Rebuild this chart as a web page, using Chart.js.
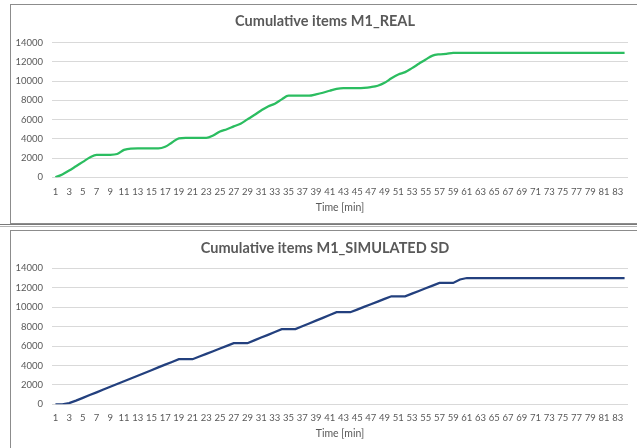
<!DOCTYPE html>
<html>
<head>
<meta charset="utf-8">
<script src="https://cdn.jsdelivr.net/npm/chart.js@4.4.1/dist/chart.umd.min.js"></script>
<style>
  html, body { margin: 0; padding: 0; background: #fff; overflow: hidden; }
  body { width: 637px; height: 448px; position: relative; overflow: hidden; }
  .box { position: absolute; left: 10px; width: 640px; border: 1px solid #8c8c8c; }
  .box--top { top: 4px; height: 218px; }
  .box--bottom { top: 230px; height: 240px; }
  .sep { position: absolute; left: 0; top: 224px; width: 637px; height: 1px; border-top: 1px solid #7a7a7a; border-bottom: 1px solid #b4b4b4; }
  canvas { position: absolute; left: 0; }
  #realChart { top: 0; }
  #simChart { top: 224px; }
</style>
</head>
<body>
<div class="box box--top"></div>
<div class="sep"></div>
<div class="box box--bottom"></div>
<canvas id="realChart" width="650" height="224"></canvas>
<canvas id="simChart" width="650" height="224"></canvas>
<script>
const minutes = [
  1, 2, 3, 4, 5, 6, 7, 8, 9, 10, 11, 12, 13, 14, 15, 16, 17, 18, 19, 20, 21,
  22, 23, 24, 25, 26, 27, 28, 29, 30, 31, 32, 33, 34, 35, 36, 37, 38, 39, 40,
  41, 42, 43, 44, 45, 46, 47, 48, 49, 50, 51, 52, 53, 54, 55, 56, 57, 58, 59,
  60, 61, 62, 63, 64, 65, 66, 67, 68, 69, 70, 71, 72, 73, 74, 75, 76, 77, 78,
  79, 80, 81, 82, 83, 84,
];

// M1_REAL
const realItems = [
  0, 300, 700, 1150, 1600, 2050, 2340, 2340, 2340, 2420, 2850, 2990, 3000,
  3000, 3000, 3000, 3170, 3620, 4050, 4100, 4100, 4100, 4100, 4350, 4770,
  5000, 5290, 5570, 6020, 6470, 6950, 7370, 7650, 8100, 8480, 8480, 8480,
  8480, 8620, 8790, 9000, 9200, 9280, 9280, 9280, 9300, 9380, 9520, 9820,
  10300, 10690, 10930, 11350, 11800, 12250, 12650, 12780, 12830, 12930,
  12930, 12930, 12930, 12930, 12930, 12930, 12930, 12930, 12930, 12930,
  12930, 12930, 12930, 12930, 12930, 12930, 12930, 12930, 12930, 12930,
  12930, 12930, 12930, 12930, 12930,
];

// M1_SIMULATED SD
const simulatedItems = [
  0, 0, 120, 380, 660, 950, 1230, 1520, 1800, 2090, 2370, 2660, 2940, 3230,
  3510, 3800, 4080, 4360, 4640, 4640, 4640, 4920, 5190, 5460, 5740, 6010,
  6290, 6290, 6290, 6580, 6870, 7150, 7440, 7740, 7740, 7740, 8030, 8320,
  8610, 8900, 9190, 9480, 9480, 9480, 9750, 10030, 10300, 10570, 10850,
  11120, 11120, 11120, 11390, 11670, 11940, 12220, 12490, 12490, 12490,
  12850, 13000, 13000, 13000, 13000, 13000, 13000, 13000, 13000, 13000,
  13000, 13000, 13000, 13000, 13000, 13000, 13000, 13000, 13000, 13000,
  13000, 13000, 13000, 13000, 13000,
];

const yMax = 14000;
const yStep = 2000;

const textColor = "#595959";

function buildChart(id, titleText, values, color, box) {
  return new Chart(document.getElementById(id).getContext("2d"), {
    type: "line",
    data: {
      labels: minutes,
      datasets: [
        {
          data: values,
          borderColor: color,
          borderWidth: 2.25,
          pointRadius: 0,
          fill: false,
          cubicInterpolationMode: box.smooth ? "monotone" : "default",
          tension: 0,
        },
      ],
    },
    options: {
      responsive: false,
      animation: false,
      layout: { padding: 0 },
      plugins: {
        legend: { display: false },
        tooltip: { enabled: false },
        title: {
          display: true,
          text: titleText,
          color: textColor,
          font: { family: "Lato", size: 14.5, weight: "bold" },
          padding: { top: box.titleTop, bottom: box.titleBottom },
        },
      },
      scales: {
        x: {
          offset: true,
          grid: { display: false, drawTicks: false },
          border: { display: false },
          ticks: {
            autoSkip: false,
            maxRotation: 0,
            minRotation: 0,
            padding: box.xPad,
            color: textColor,
            font: { family: "Lato", size: 9.5 },
            callback: function (value, index) {
              return index % 2 === 0 ? this.getLabelForValue(value) : "";
            },
          },
          title: {
            display: true,
            text: "Time [min]",
            color: textColor,
            font: { family: "Lato", size: 10.5 },
            padding: { top: 0, bottom: box.axisTitleBottom },
          },
          afterFit: (scale) => {
            scale.height = box.xHeight;
          },
        },
        y: {
          min: 0,
          max: yMax,
          grid: { color: "#d9d9d9", drawTicks: false },
          border: { display: false },
          ticks: {
            stepSize: yStep,
            padding: 9,
            color: textColor,
            font: { family: "Lato", size: 9.5 },
            callback: (value) => String(value),
          },
          afterFit: (scale) => {
            scale.width = 52;
          },
        },
        // empty right-hand strip so the plot ends at 628 while the title centres on the box
        spacer: {
          type: "linear",
          position: "right",
          grid: { display: false, drawTicks: false },
          border: { display: false },
          ticks: { display: false },
          afterFit: (scale) => {
            scale.width = 22;
          },
        },
      },
    },
  });
}

buildChart("realChart", "Cumulative items M1_REAL", realItems, "#2bbd60", {
  smooth: true,
  titleTop: 12.6,
  titleBottom: 12.6,
  xHeight: 46.7,
  xPad: 9,
  axisTitleBottom: 10,
});

buildChart("simChart", "Cumulative items M1_SIMULATED SD", simulatedItems, "#23407e", {
  smooth: false,
  titleTop: 15.6,
  titleBottom: 11.3,
  xHeight: 43.7,
  xPad: 7.6,
  axisTitleBottom: 8,
});
</script>
</body>
</html>
